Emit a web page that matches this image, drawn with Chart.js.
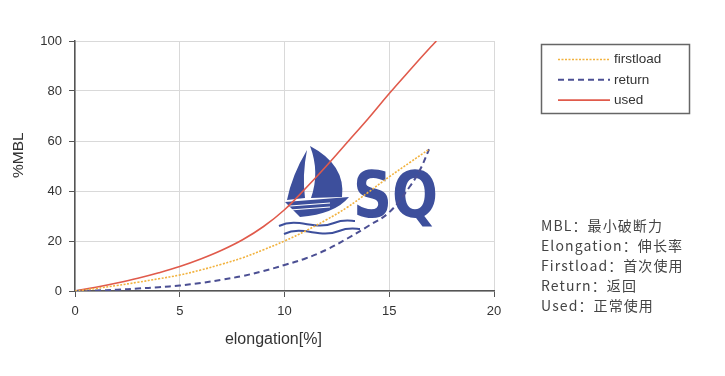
<!DOCTYPE html>
<html>
<head>
<meta charset="utf-8">
<script src="https://cdn.jsdelivr.net/npm/chart.js@4/dist/chart.umd.min.js"></script>
<style>
  html, body { margin: 0; padding: 0; background: #fff; }
  #wrap { position: relative; width: 725px; height: 376px; }
  #notes {
    position: absolute; left: 541px; top: 215px;
    font: 14px "Noto Sans CJK SC", "Liberation Sans", sans-serif;
    letter-spacing: 1.1px; line-height: 20px; color: #444;
  }
</style>
</head>
<body>
<div id="wrap">
  <canvas id="ropeChart" width="725" height="376"></canvas>
  <div id="notes">
    MBL：最小破断力<br>
    Elongation：伸长率<br>
    Firstload：首次使用<br>
    Return：返回<br>
    Used：正常使用
  </div>
</div>
<script>
// Data
const seriesNames = ["firstload", "return", "used"];
const firstloadX = [0, 1, 2, 3, 4, 5, 6, 7, 8, 9, 10, 11, 12, 13, 14, 15, 16, 16.9];
const firstloadY = [0, 1, 2.2, 3.5, 4.9, 6.4, 8.4, 10.7, 13.3, 16.5, 20, 24, 28.5, 33.5, 39.5, 45.7, 51.5, 56.7];
const returnX = [0, 1, 2, 3, 4, 5, 6, 7, 8, 9, 10, 11, 12, 13, 14, 15, 16, 16.5, 16.9];
const returnY = [0, 0.2, 0.5, 1, 1.5, 2.2, 3.2, 4.5, 6, 8, 10.4, 13, 16.5, 21, 26, 31.5, 42, 49, 56.7];
const usedX = [0, 1, 2, 3, 4, 5, 6, 7, 8, 9, 10, 11, 12, 13, 14, 15, 16, 17, 17.25];
const usedY = [0, 1.5, 3.2, 5.1, 7.3, 9.8, 12.8, 16.3, 20.5, 25.8, 32.5, 41, 50, 59.5, 69, 79, 88.5, 97.8, 100];
const xTicks = [0, 5, 10, 15, 20];
const yTicks = [0, 20, 40, 60, 80, 100];

const toPoints = (xs, ys) => xs.map((x, i) => ({ x: x, y: ys[i] }));

const tickFont = { family: "'Liberation Sans', Arial, sans-serif", size: 13 };
const titleFont = { family: "'Liberation Sans', Arial, sans-serif", size: 16 };
const axisColor = '#555';

// boxed legend at the right, drawn from the dataset styles
const boxLegend = {
  id: 'boxLegend',
  afterDraw(chart) {
    const ctx = chart.ctx;
    ctx.save();
    ctx.strokeStyle = '#666';
    ctx.lineWidth = 1.5;
    ctx.strokeRect(541.5, 44.5, 148, 69);
    chart.data.datasets.forEach((ds, i) => {
      const y = 59.5 + i * 20.3;
      ctx.beginPath();
      ctx.setLineDash(ds.borderDash || []);
      ctx.strokeStyle = ds.borderColor;
      ctx.lineWidth = ds.borderWidth;
      ctx.moveTo(558, y);
      ctx.lineTo(610, y);
      ctx.stroke();
      ctx.setLineDash([]);
      ctx.fillStyle = '#333';
      ctx.font = "13.5px 'Liberation Sans', Arial, sans-serif";
      ctx.textBaseline = 'middle';
      ctx.fillText(ds.label, 614, y);
    });
    ctx.restore();
  }
};

// SQ sailboat watermark
const sqLogo = {
  id: 'sqLogo',
  beforeDatasetsDraw(chart) {
    const ctx = chart.ctx;
    ctx.save();
    ctx.fillStyle = '#3d4f9c';
    ctx.strokeStyle = '#3d4f9c';
    // jib
    ctx.beginPath();
    ctx.moveTo(307, 150);
    ctx.quadraticCurveTo(292, 175, 287, 200);
    ctx.lineTo(305, 198);
    ctx.quadraticCurveTo(302, 175, 307, 150);
    ctx.closePath();
    ctx.fill();
    // main sail
    ctx.beginPath();
    ctx.moveTo(310, 146);
    ctx.quadraticCurveTo(346, 165, 342, 197);
    ctx.lineTo(311, 198);
    ctx.quadraticCurveTo(320, 172, 310, 146);
    ctx.closePath();
    ctx.fill();
    // hull
    ctx.beginPath();
    ctx.moveTo(285, 202);
    ctx.lineTo(349, 197);
    ctx.quadraticCurveTo(335, 214, 300, 217);
    ctx.closePath();
    ctx.fill();
    ctx.strokeStyle = '#fff';
    ctx.lineWidth = 1.2;
    [206, 210].forEach(y => {
      ctx.beginPath();
      ctx.moveTo(290, y);
      ctx.lineTo(330, y - 3);
      ctx.stroke();
    });
    // waves
    ctx.strokeStyle = '#3d4f9c';
    ctx.lineWidth = 2;
    [[223, 279], [231, 284]].forEach(([y, x0]) => {
      ctx.beginPath();
      ctx.moveTo(x0, y + 3);
      ctx.bezierCurveTo(x0 + 20, y - 6, x0 + 35, y + 8, x0 + 55, y);
      ctx.bezierCurveTo(x0 + 65, y - 4, x0 + 72, y - 2, x0 + 76, y - 2);
      ctx.stroke();
    });
    // letters
    ctx.font = "bold 66px 'DejaVu Sans', sans-serif";
    ctx.textBaseline = 'alphabetic';
    const w = ctx.measureText('SQ').width;
    ctx.translate(353, 217);
    ctx.scale(85 / w, 0.96);
    ctx.fillText('SQ', 0, 0);
    ctx.restore();
  }
};

const config = {
  type: 'line',
  data: {
    datasets: [{
      label: seriesNames[0],
      data: toPoints(firstloadX, firstloadY),
      borderColor: '#f2b23e',
      borderWidth: 1.6,
      borderDash: [2, 1.5],
      pointRadius: 0,
      tension: 0.4
    }, {
      label: seriesNames[1],
      data: toPoints(returnX, returnY),
      borderColor: '#4b4f93',
      borderWidth: 2,
      borderDash: [6, 4],
      pointRadius: 0,
      tension: 0.4
    }, {
      label: seriesNames[2],
      data: toPoints(usedX, usedY),
      borderColor: '#e05a4b',
      borderWidth: 1.6,
      pointRadius: 0,
      tension: 0.4
    }]
  },
  options: {
    responsive: false,
    animation: false,
    layout: { padding: { left: 0, top: 41, right: 231, bottom: 0 } },
    plugins: { legend: { display: false }, tooltip: { enabled: false } },
    scales: {
      x: {
        type: 'linear',
        min: 0, max: 20,
        afterFit: (scale) => { scale.height = 85; },
        afterBuildTicks: (scale) => { scale.ticks = xTicks.map(v => ({ value: v })); },
        ticks: { color: '#333', font: tickFont, padding: 7, maxRotation: 0 },
        grid: { color: '#d9d9d9', tickColor: axisColor, tickLength: 6, lineWidth: 1 },
        border: { color: axisColor, width: 1.5 },
        title: {
          display: true, text: 'elongation[%]     ', color: '#333',
          font: titleFont,
          padding: { top: 0, bottom: 27 }
        }
      },
      y: {
        min: 0, max: 100,
        afterFit: (scale) => { scale.width = 75; },
        afterBuildTicks: (scale) => { scale.ticks = yTicks.map(v => ({ value: v })); },
        ticks: { color: '#333', font: tickFont, padding: 7 },
        grid: { color: '#d9d9d9', tickColor: axisColor, tickLength: 6, lineWidth: 1 },
        border: { color: axisColor, width: 1.5 },
        title: {
          display: true, text: '     %MBL', color: '#333',
          font: { family: titleFont.family, size: 15.5 },
          padding: { top: 9, bottom: 0 }
        }
      }
    }
  },
  plugins: [sqLogo, boxLegend]
};

window.addEventListener('DOMContentLoaded', () => {
  const ropeChart = new Chart(document.getElementById('ropeChart'), config);
});
</script>
</body>
</html>
